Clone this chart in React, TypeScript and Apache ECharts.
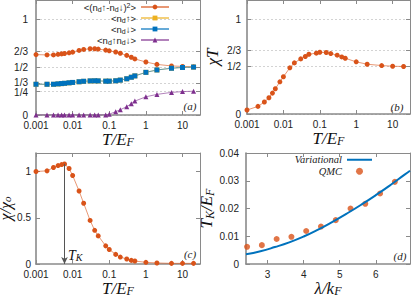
import React, { useEffect, useRef } from 'react';
import * as echarts from 'echarts';

// ---------- data ----------
const T = [0.001, 0.002, 0.003, 0.004, 0.005, 0.006, 0.008, 0.01, 0.015, 0.02, 0.03, 0.04, 0.05, 0.08, 0.1, 0.15, 0.2, 0.3, 0.4, 0.5, 1, 2, 5, 10, 20];
const magMoment = [0.630, 0.627, 0.627, 0.633, 0.638, 0.642, 0.649, 0.656, 0.674, 0.684, 0.691, 0.691, 0.688, 0.677, 0.670, 0.657, 0.644, 0.622, 0.603, 0.585, 0.553, 0.528, 0.512, 0.507, 0.503];
const nUp = [0.320, 0.320, 0.320, 0.324, 0.327, 0.330, 0.335, 0.339, 0.346, 0.351, 0.355, 0.356, 0.355, 0.353, 0.353, 0.357, 0.364, 0.378, 0.394, 0.408, 0.445, 0.470, 0.488, 0.496, 0.500];
const nDown = [0.321, 0.321, 0.321, 0.325, 0.328, 0.331, 0.336, 0.340, 0.347, 0.352, 0.356, 0.357, 0.356, 0.353, 0.353, 0.357, 0.364, 0.378, 0.394, 0.408, 0.445, 0.470, 0.488, 0.496, 0.500];
const nUpDown = [0, 0, 0, 0, 0, 0, 0, 0, 0, 0, 0, 0, 0, 0, 0.008, 0.035, 0.055, 0.087, 0.118, 0.145, 0.19, 0.215, 0.236, 0.244, 0.248];
const chiT = [0.042, 0.080, 0.126, 0.171, 0.220, 0.266, 0.339, 0.392, 0.486, 0.538, 0.580, 0.605, 0.629, 0.640, 0.650, 0.647, 0.636, 0.619, 0.601, 0.587, 0.549, 0.524, 0.510, 0.503, 0.500];
const chiRatio = [1.0, 1.007, 1.043, 1.064, 1.075, 1.082, 1.032, 0.957, 0.789, 0.657, 0.471, 0.364, 0.304, 0.196, 0.157, 0.104, 0.075, 0.054, 0.039, 0.032, 0.018, 0.011, 0.007, 0.007, 0.007];
const TK = 0.006;
const TK_PEAK = 1.082;

const lambdaQMC = [2.43, 2.84, 3.25, 3.66, 4.07, 4.48, 4.89, 5.30, 5.71, 6.12, 6.53];
const tkQMC = [0.0062, 0.0068, 0.0090, 0.0098, 0.0119, 0.0135, 0.0158, 0.0200, 0.0217, 0.0254, 0.0296];
const lambdaVar = [2.4, 2.8, 3.2, 3.6, 4.0, 4.4, 4.8, 5.2, 5.6, 6.0, 6.4, 6.8, 6.95];
const tkVar = [0.0035, 0.0046, 0.0061, 0.0078, 0.0099, 0.0124, 0.0152, 0.0182, 0.0214, 0.0248, 0.0284, 0.0322, 0.0336];

const T_TICKS = [0.001, 0.01, 0.1, 1, 10];
const T_TICK_LABELS = ['0.001', '0.01', '0.1', '1', '10'];
const FRAC_A = [0, 0.25, 1 / 3, 0.5, 2 / 3, 1];
const FRAC_A_LABELS = ['0', '{lo|1/4}', '{hi|1/3}', '1/2', '2/3', '1'];
const FRAC_B = [0, 0.5, 2 / 3, 1];
const FRAC_B_LABELS = ['0', '1/2', '2/3', '1'];
const C_TICKS = [0, 0.5, 1];
const C_TICK_LABELS = ['0', '0.5', '1'];
const D_X_TICKS = [3, 4, 5, 6];
const D_Y_TICKS = [0, 0.01, 0.02, 0.03, 0.04];
const D_Y_LABELS = ['0', '0.01', '0.02', '0.03', '0.04'];

const A_NAMES = ['<(n_d↑-n_d↓)²>', '<n_d↑>', '<n_d↓>', '<n_d↑n_d↓>'];
const A_LABELS = ['<(n{s|d}↑-n{s|d}↓){p|2}>', '<n{s|d}↑>', '<n{s|d}↓>', '<n{s|d}↑n{s|d}↓>'];
const D_NAMES = ['Variational', 'QMC'];

const ORANGE = '#d95319';
const YELLOW = '#edb120';
const BLUE = '#0072bd';
const PURPLE = '#7e2f8e';

const SANS = 'Liberation Sans, Arial, sans-serif';
const SERIF = 'Liberation Serif, Times New Roman, serif';

const lookup = (vals: number[], labels: string[], log = false) => (v: number) => {
  for (let i = 0; i < vals.length; i++) {
    const a = log ? Math.log10(vals[i]) : vals[i];
    const b = log ? Math.log10(v) : v;
    if (Math.abs(a - b) < 1e-6) return labels[i];
  }
  return '';
};

const GRIDS = [
  { left: 36, top: 0, width: 164, height: 115 },
  { left: 247, top: 0, width: 163, height: 114 },
  { left: 36, top: 153, width: 164, height: 111 },
  { left: 246, top: 153, width: 164, height: 111 },
];

const makeRich = (size: number, lh: number) => ({
  i: { fontFamily: SERIF, fontStyle: 'italic', fontSize: size, color: '#111', lineHeight: lh },
  s: { fontFamily: SERIF, fontStyle: 'italic', fontSize: Math.round(size * 0.7), color: '#111', verticalAlign: 'bottom', lineHeight: Math.round(lh * 0.45) },
});
const nameRich = makeRich(17, 18);
const nameRichSmall = makeRich(16, 15);

function xAxisFor(gi: number, mirror: boolean, kind: 'log' | 'lam', name: string, gap: number) {
  const base: any = {
    gridIndex: gi,
    position: mirror ? 'top' : 'bottom',
    axisLine: { show: true, onZero: false, lineStyle: { color: '#8a8a8a', width: mirror ? 1 : 1.6 } },
    axisTick: { show: true, inside: true, length: 4, lineStyle: { color: '#8a8a8a', width: 1 } },
    splitLine: { show: false },
    axisLabel: { show: !mirror, margin: 5, fontSize: 10, color: '#222', fontFamily: SANS },
  };
  if (kind === 'log') {
    base.type = 'log';
    base.logBase = 10;
    base.min = 0.001;
    base.max = 30;
    base.axisTick.customValues = T_TICKS;
    base.axisLabel.customValues = T_TICKS;
    base.axisLabel.formatter = lookup(T_TICKS, T_TICK_LABELS, true);
  } else {
    base.type = 'value';
    base.min = 2.4;
    base.max = 6.95;
    base.axisTick.customValues = D_X_TICKS;
    base.axisLabel.customValues = D_X_TICKS;
    base.axisLabel.formatter = (v: number) => String(Math.round(v));
  }
  if (!mirror) {
    base.name = name;
    base.nameLocation = 'middle';
    base.nameGap = gap;
    base.nameTextStyle = { rich: nameRich, fontFamily: SERIF, fontSize: 17 };
  }
  return base;
}

function yAxisFor(gi: number, mirror: boolean, vals: number[], labels: string[], max: number, grid: boolean, margin: number, name: string, gap: number, rich: any = nameRich) {
  const base: any = {
    type: 'value',
    gridIndex: gi,
    position: mirror ? 'right' : 'left',
    min: 0,
    max,
    axisLine: { show: true, onZero: false, lineStyle: { color: '#8a8a8a', width: mirror ? 1 : 1.6 } },
    axisTick: { show: true, inside: true, length: 4, customValues: vals, lineStyle: { color: '#8a8a8a', width: 1 } },
    axisLabel: {
      show: !mirror,
      customValues: vals,
      formatter: lookup(vals, labels),
      margin,
      fontSize: 10,
      color: '#222',
      fontFamily: SANS,
      rich: {
        lo: { fontSize: 10, fontFamily: SANS, color: '#222', padding: [2, 0, 0, 0] },
        hi: { fontSize: 10, fontFamily: SANS, color: '#222', padding: [0, 0, 2, 0] },
      },
    },
    splitLine: { show: grid && !mirror, lineStyle: { color: '#c8c8c8', type: [2, 2], width: 0.8 } },
  };
  if (!mirror && name) {
    base.name = name;
    base.nameLocation = 'middle';
    base.nameGap = gap;
    base.nameTextStyle = { rich, fontFamily: SERIF, fontSize: 17 };
  }
  return base;
}

const pairs = (xs: number[], ys: number[]) => xs.map((x, i) => [x, ys[i]]);

function lineSeries(name: string, xi: number, data: number[][], color: string, symbol: string, size: number) {
  return {
    type: 'line',
    name,
    xAxisIndex: xi,
    yAxisIndex: xi,
    data,
    symbol,
    symbolSize: size,
    showSymbol: true,
    itemStyle: { color },
    lineStyle: { color, width: 1, opacity: 0.6 },
    emphasis: { disabled: true },
  };
}

export default function App() {
  const ref = useRef<HTMLDivElement>(null);
  useEffect(() => {
    if (!ref.current) return;
    const chart = echarts.init(ref.current, null, { renderer: 'svg' });
    const panelLabel = (text: string, x: number, y: number) => ({
      type: 'text',
      x,
      y,
      style: { text, fill: '#222', font: 'italic 11px ' + SERIF, textAlign: 'center', textVerticalAlign: 'middle' },
    });
    const option: any = {
      animation: false,
      backgroundColor: '#fff',
      grid: GRIDS.map((g) => ({ ...g, containLabel: false, outerBoundsMode: 'none' })),
      xAxis: [
        xAxisFor(0, false, 'log', '{i|T/E}{s|F}', 14),
        xAxisFor(1, false, 'log', '{i|T/E}{s|F}', 15),
        xAxisFor(2, false, 'log', '{i|T/E}{s|F}', 12),
        xAxisFor(3, false, 'lam', '{i|λ/k}{s|F}', 14),
        xAxisFor(0, true, 'log', '', 0),
        xAxisFor(1, true, 'log', '', 0),
        xAxisFor(2, true, 'log', '', 0),
        xAxisFor(3, true, 'lam', '', 0),
      ],
      yAxis: [
        yAxisFor(0, false, FRAC_A, FRAC_A_LABELS, 1.2, true, 8, '', 0),
        yAxisFor(1, false, FRAC_B, FRAC_B_LABELS, 1.2, true, 6, '{i|χT}', 26),
        yAxisFor(2, false, C_TICKS, C_TICK_LABELS, 1.2, false, 5, '{i|χ/χ}{s|o}', 18, nameRichSmall),
        yAxisFor(3, false, D_Y_TICKS, D_Y_LABELS, 0.04, false, 7, '{i|T}{s|K}{i|/E}{s|F}', 27),
        yAxisFor(0, true, FRAC_A, FRAC_A_LABELS, 1.2, false, 8, '', 0),
        yAxisFor(1, true, FRAC_B, FRAC_B_LABELS, 1.2, false, 6, '', 0),
        yAxisFor(2, true, C_TICKS, C_TICK_LABELS, 1.2, false, 5, '', 0),
        yAxisFor(3, true, D_Y_TICKS, D_Y_LABELS, 0.04, false, 7, '', 0),
      ],
      legend: [
        {
          orient: 'vertical',
          align: 'right',
          right: 241,
          top: 1.5,
          padding: 0,
          itemGap: 0,
          itemWidth: 28,
          itemHeight: 6,
          data: A_NAMES,
          formatter: (n: string) => A_LABELS[A_NAMES.indexOf(n)],
          textStyle: {
            fontSize: 9.5,
            fontFamily: SANS,
            color: '#222',
            lineHeight: 11,
            rich: {
              s: { fontSize: 7, fontFamily: SANS, color: '#222', verticalAlign: 'bottom', lineHeight: 6 },
              p: { fontSize: 7, fontFamily: SANS, color: '#222', verticalAlign: 'top', lineHeight: 6 },
            },
          },
        },
        {
          orient: 'vertical',
          align: 'right',
          right: 38,
          top: 154,
          padding: 0,
          itemGap: 0,
          itemWidth: 25,
          itemHeight: 7,
          data: [{ name: D_NAMES[0], itemStyle: { opacity: 0 } }, { name: D_NAMES[1] }],
          textStyle: { fontSize: 10.5, fontFamily: SERIF, fontStyle: 'italic', color: '#222', lineHeight: 11.5 },
        },
      ],
      series: [
        lineSeries(A_NAMES[0], 0, pairs(T, magMoment), ORANGE, 'circle', 5),
        lineSeries(A_NAMES[1], 0, pairs(T, nUp), YELLOW, 'rect', 5),
        lineSeries(A_NAMES[2], 0, pairs(T, nDown), BLUE, 'rect', 5),
        lineSeries(A_NAMES[3], 0, pairs(T, nUpDown), PURPLE, 'triangle', 5),
        lineSeries('chiT', 1, pairs(T, chiT), ORANGE, 'circle', 5),
        {
          ...lineSeries('chiRatio', 2, pairs(T, chiRatio), ORANGE, 'circle', 5),
          markLine: {
            silent: true,
            symbol: ['none', 'arrow'],
            symbolSize: [5, 7],
            label: { show: false },
            lineStyle: { color: '#555', width: 1, type: 'solid' },
            data: [[{ coord: [TK, TK_PEAK] }, { coord: [TK, 0] }]],
          },
        },
        {
          type: 'line',
          name: D_NAMES[0],
          xAxisIndex: 3,
          yAxisIndex: 3,
          data: pairs(lambdaVar, tkVar),
          smooth: true,
          showSymbol: false,
          symbol: 'none',
          itemStyle: { color: BLUE },
          lineStyle: { color: BLUE, width: 2 },
          emphasis: { disabled: true },
        },
        {
          type: 'scatter',
          name: D_NAMES[1],
          xAxisIndex: 3,
          yAxisIndex: 3,
          data: pairs(lambdaQMC, tkQMC),
          symbol: 'circle',
          symbolSize: 6,
          itemStyle: { color: ORANGE },
          emphasis: { disabled: true },
        },
      ],
      graphic: [
        panelLabel('(a)', 190, 106),
        panelLabel('(b)', 397, 107),
        panelLabel('(c)', 190, 254),
        panelLabel('(d)', 400, 256),
        {
          type: 'text',
          x: 68,
          y: 255,
          style: {
            text: '{i|T}{s|K}',
            textVerticalAlign: 'middle',
            rich: {
              i: { fontFamily: SERIF, fontStyle: 'italic', fontSize: 14, fill: '#111', lineHeight: 15 },
              s: { fontFamily: SERIF, fontStyle: 'italic', fontSize: 10, fill: '#111', verticalAlign: 'bottom', lineHeight: 6 },
            },
          },
        },
      ],
    };
    chart.setOption(option);
    return () => chart.dispose();
  }, []);
  return <div ref={ref} style={{ position: 'absolute', left: 0, top: 0, width: 411, height: 297 }} />;
}
